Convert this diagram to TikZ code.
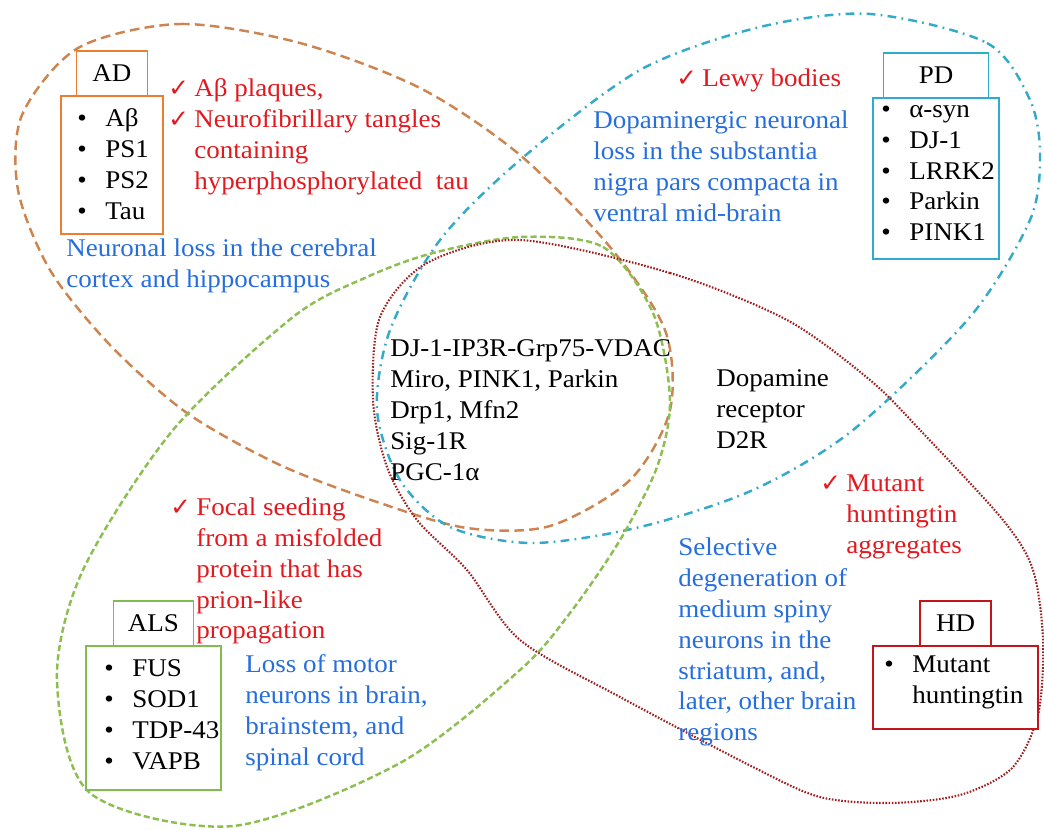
\documentclass[tikz,border=0pt]{standalone}
\usepackage{fontspec}
\setmainfont{Liberation Serif}[FakeStretch=1.06]
\newfontfamily\tickfont{DejaVu Sans}
\usetikzlibrary{positioning}

\definecolor{adbox}{RGB}{237,125,49}
\definecolor{adline}{RGB}{204,132,80}
\definecolor{pdbox}{RGB}{45,172,205}
\definecolor{pdline}{RGB}{50,170,200}
\definecolor{alsbox}{RGB}{128,188,78}
\definecolor{alsline}{RGB}{140,190,80}
\definecolor{hdbox}{RGB}{192,22,28}
\definecolor{hdline}{RGB}{158,30,30}
\definecolor{sympred}{RGB}{226,25,30}
\definecolor{lossblue}{RGB}{38,110,222}

\newcommand{\chk}{\makebox[0.52cm][l]{\tickfont\bfseries\fontsize{14}{14}\selectfont ✓}}
\newcommand{\nochk}{\makebox[0.52cm]{}}
\newcommand{\itm}{\makebox[0.56cm][l]{\textbullet}}

\tikzset{
  namebox/.style={draw=#1, fill=white, line width=1.1pt, outer sep=0pt, minimum height=0.9cm},
  listbox/.style={draw=#1, fill=white, line width=1.1pt, outer sep=0pt},
  items/.style={anchor=west, align=left},
  sign/.style={anchor=west, align=left, text=sympred},
  loss/.style={anchor=west, align=left, text=lossblue}
}

\begin{document}
\begin{tikzpicture}[x=0.02cm, y=-0.02cm, inner sep=0pt, font=\fontsize{14.5}{17.6}\selectfont]
\useasboundingbox (0,0) rectangle (1044,829);

% the four disease regions
\draw[adline, line width=1.4pt, dash pattern=on 5.5pt off 3pt] plot[smooth cycle] coordinates {
  (78,48) (180,24) (300,43) (420,88) (520,155) (610,247) (665,330) (670,410) (630,480)
  (550,526) (467,528) (380,503) (280,465) (187,413) (110,345) (50,270) (18,190) (22,115)};
\draw[pdline, line width=1.4pt, dash pattern=on 5pt off 3pt on 1pt off 3pt] plot[smooth cycle] coordinates {
  (870,14) (987,43) (1030,100) (1040,155) (1030,220) (970,317) (853,430) (753,490)
  (640,527) (533,543) (450,527) (400,480) (377,410) (390,330) (440,240) (520,160)
  (640,70) (760,27)};
\draw[alsline, line width=1.4pt, dash pattern=on 3.5pt off 1.8pt] plot[smooth cycle] coordinates {
  (520,237) (603,247) (653,313) (670,400) (657,467) (620,540) (570,613) (520,670) (400,763)
  (233,826) (90,793) (57,680) (83,570) (173,430) (293,317) (367,277) (433,253)};
\draw[hdline, line width=1.2pt, dash pattern=on 0.9pt off 0.9pt] plot[smooth cycle] coordinates {
  (520,240) (670,273) (787,320) (870,380) (920,430) (1003,520) (1033,570) (1043,640) (1038,715)
  (1012,768) (960,795) (890,803) (820,797) (753,767) (620,697) (520,640) (467,570) (417,520)
  (387,467) (373,400) (380,317) (427,263)};

% AD
\node[listbox=adbox, minimum width=2.04cm, minimum height=2.76cm] (adlist) at (112,165) {};
\node[namebox=adbox, minimum width=1.42cm, above=0pt of adlist] (adname) {AD};
\node[items] (aditems) at (77,164) {\itm Aβ\\\itm PS1\\\itm PS2\\\itm Tau};
\node[sign] (adsign) at (168,137) {\chk Aβ plaques,\\\chk Neurofibrillary tangles\\\nochk containing\\\nochk hyperphosphorylated~ tau};
\node[loss] (adloss) at (66,266) {Neuronal loss in the cerebral\\cortex and hippocampus};

% PD
\node[listbox=pdbox, minimum width=2.52cm, minimum height=3.22cm] (pdlist) at (936,178.5) {};
\node[namebox=pdbox, minimum width=2.1cm, above=0pt of pdlist] (pdname) {PD};
\node[items] (pditems) at (881,173) {\itm α-syn\\\itm DJ-1\\\itm LRRK2\\\itm Parkin\\\itm PINK1};
\node[sign] (pdsign) at (676,80) {\chk Lewy bodies};
\node[loss] (pdloss) at (593,166.5) {Dopaminergic neuronal\\loss in the substantia\\nigra pars compacta in\\ventral mid-brain};

% ALS
\node[listbox=alsbox, minimum width=2.7cm, minimum height=2.88cm] (alslist) at (153.5,718) {};
\node[namebox=alsbox, minimum width=1.6cm, above=0pt of alslist] (alsname) {ALS};
\node[items] (alsitems) at (104,715) {\itm FUS\\\itm SOD1\\\itm TDP-43\\\itm VAPB};
\node[sign] (alssign) at (170,571) {\chk Focal seeding\\\nochk from a misfolded\\\nochk protein that has\\\nochk prion-like\\\nochk propagation};
\node[loss] (alsloss) at (245,713) {Loss of motor\\neurons in brain,\\brainstem, and\\spinal cord};

% HD
\node[listbox=hdbox, minimum width=3.3cm, minimum height=1.66cm] (hdlist) at (955.5,687.5) {};
\node[namebox=hdbox, minimum width=1.42cm, above=0pt of hdlist] (hdname) {HD};
\node[items] (hditems) at (884,682) {\itm Mutant\\\makebox[0.56cm]{}huntingtin};
\node[sign] (hdsign) at (820,517) {\chk Mutant\\\nochk huntingtin\\\nochk aggregates};
\node[loss] (hdloss) at (678,642) {Selective\\degeneration of\\medium spiny\\neurons in the\\striatum, and,\\later, other brain\\regions};

% shared
\node[items] (shared) at (390,410) {DJ-1-IP3R-Grp75-VDAC\\Miro, PINK1, Parkin\\Drp1, Mfn2\\Sig-1R\\PGC-1α};
\node[items] (receptor) at (716,409) {Dopamine\\receptor\\D2R};

\end{tikzpicture}
\end{document}
